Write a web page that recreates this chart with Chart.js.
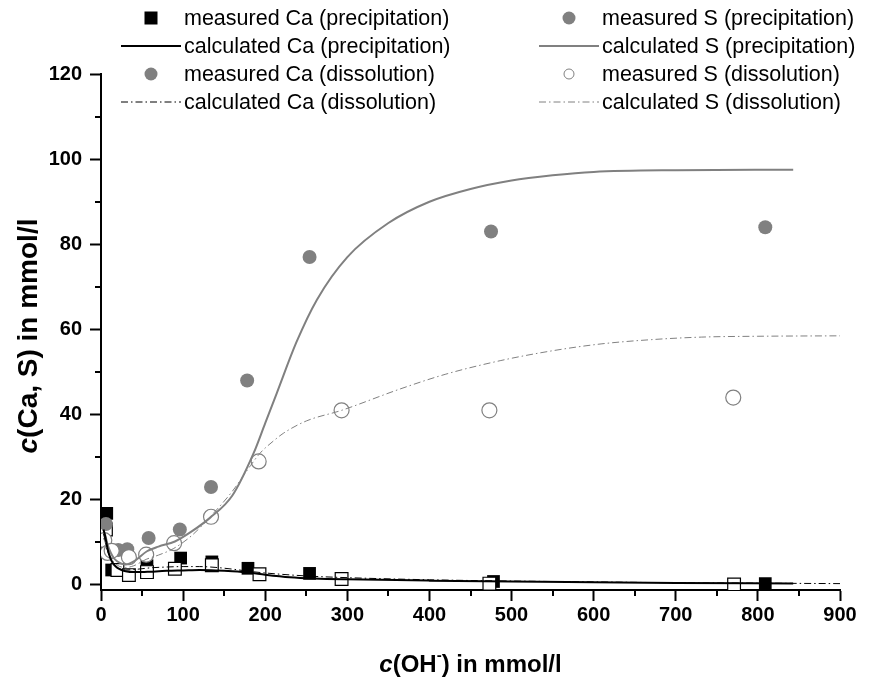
<!DOCTYPE html>
<html>
<head>
<meta charset="utf-8">
<script src="https://cdn.jsdelivr.net/npm/chart.js@4"></script>
<style>
  html, body { margin: 0; padding: 0; background: #fff; }
</style>
</head>
<body>
<canvas id="chart" width="883" height="681"></canvas>
<script>
/* global Chart */
const labels = [
  "measured Ca (precipitation)",
  "calculated Ca (precipitation)",
  "measured Ca (dissolution)",
  "calculated Ca (dissolution)",
  "measured S (precipitation)",
  "calculated S (precipitation)",
  "measured S (dissolution)",
  "calculated S (dissolution)",
];

const xTicks = [0, 100, 200, 300, 400, 500, 600, 700, 800, 900];
const yTicks = [0, 20, 40, 60, 80, 100, 120];

// measured points
const caPrecX = [7, 13, 56, 97, 135, 179, 254, 478, 809];
const caPrecY = [16.8, 3.5, 4.5, 6.3, 5.4, 3.9, 2.7, 0.8, 0.3];
const caDissX = [6, 20, 34, 56, 90, 135, 193, 293, 473, 771];
const caDissY = [13, 3.5, 2.3, 3, 3.8, 4.6, 2.5, 1.4, 0.3, 0.1];
const sPrecX = [6, 21, 32, 58, 96, 134, 178, 254, 475, 809];
const sPrecY = [14.3, 8.2, 8.4, 11, 13, 23, 48, 77, 83, 84];
const sDissX = [4, 8, 13, 34, 55, 89, 134, 192, 293, 473, 770];
const sDissY = [10.5, 7.5, 8, 6.5, 7.1, 9.8, 16, 29, 41, 41, 44];

// calculated curves
const caPrecCalcX = [3, 5, 8, 12, 16, 20, 25, 30, 40, 50, 60, 80, 100, 120, 140, 160, 180, 200, 230, 260, 300, 400, 500, 600, 700, 843];
const caPrecCalcY = [13, 11.5, 8.5, 6, 4.7, 4, 3.5, 3.2, 3, 3, 3.1, 3.3, 3.4, 3.5, 3.4, 3.2, 2.9, 2.4, 1.8, 1.5, 1.3, 1.0, 0.8, 0.6, 0.45, 0.35];
const caDissCalcX = [3, 5, 8, 12, 16, 20, 25, 30, 40, 50, 60, 80, 100, 120, 140, 160, 180, 200, 250, 300, 400, 500, 600, 700, 800, 900];
const caDissCalcY = [12, 10.5, 8, 6, 4.8, 4.1, 3.7, 3.5, 3.6, 3.8, 4, 4.2, 4.3, 4.3, 4.1, 3.7, 3.2, 2.8, 2.1, 1.7, 1.2, 0.9, 0.7, 0.5, 0.4, 0.3];
const sPrecCalcX = [3, 5, 8, 12, 16, 20, 25, 30, 40, 56, 70, 90, 110, 133, 160, 186, 200, 214, 238, 263, 300, 350, 400, 450, 500, 550, 600, 700, 843];
const sPrecCalcY = [13, 11.8, 9.5, 7.5, 6.2, 5.5, 5, 4.8, 5.5, 7.9, 9, 10.2, 12.5, 15.8, 21, 31, 38, 45, 57, 67, 77, 85, 90, 93, 95, 96.2, 97, 97.4, 97.5];
const sDissCalcX = [3, 5, 8, 12, 16, 20, 25, 30, 40, 55, 70, 88, 110, 133, 160, 182, 194, 210, 222, 250, 293, 364, 420, 487, 550, 609, 670, 731, 800, 900];
const sDissCalcY = [11, 10, 8, 6.5, 5.3, 4.6, 4.2, 4.1, 4.5, 6, 7, 8.5, 11.5, 16, 22, 28, 31, 33.8, 35.6, 38.5, 41, 46, 49.5, 52.7, 55, 56.6, 57.6, 58.2, 58.4, 58.5];

const FONT = "'Liberation Sans', Arial, sans-serif";
const GRAY = "#808080";
const DASHDOT = [7, 3, 1.5, 3];

const pts = (xs, ys) => xs.map((v, i) => ({ x: v, y: ys[i] }));

function marker(label, data, style, radius, fill, border, bw, order) {
  return {
    label, data, showLine: false, order,
    pointStyle: style, pointRadius: radius, pointHoverRadius: radius,
    backgroundColor: fill, borderColor: border, borderWidth: bw,
  };
}
function curve(label, data, color, width, dash) {
  return {
    label, data, showLine: true, order: 0,
    borderColor: color, backgroundColor: color, borderWidth: width,
    borderDash: dash || [], pointRadius: 0, cubicInterpolationMode: "monotone",
  };
}

// legend drawn in two columns like the original
const legendSymbols = [
  { kind: "rect", fill: "#000" },
  { kind: "line", color: "#000", width: 2 },
  { kind: "circle", fill: GRAY },
  { kind: "line", color: "#000", width: 1, dash: DASHDOT },
  { kind: "circle", fill: GRAY },
  { kind: "line", color: GRAY, width: 2 },
  { kind: "circle", fill: "#fff", stroke: GRAY, r: 5 },
  { kind: "line", color: GRAY, width: 1, dash: DASHDOT },
];

const twoColLegend = {
  id: "twoColLegend",
  afterDraw(chart) {
    const ctx = chart.ctx;
    ctx.save();
    ctx.font = "21.5px " + FONT;
    ctx.textBaseline = "middle";
    ctx.fillStyle = "#000";
    chart.data.datasets.forEach((ds, i) => {
      const col = Math.floor(i / 4);
      const row = i % 4;
      const y = 18 + row * 28;
      const x0 = col === 0 ? 121 : 539;
      const x1 = x0 + 60;
      const cx = (x0 + x1) / 2;
      const s = legendSymbols[i];
      ctx.save();
      if (s.kind === "line") {
        ctx.strokeStyle = s.color;
        ctx.lineWidth = s.width;
        ctx.setLineDash(s.dash || []);
        ctx.beginPath();
        ctx.moveTo(x0, y);
        ctx.lineTo(x1, y);
        ctx.stroke();
      } else if (s.kind === "rect") {
        ctx.fillStyle = s.fill;
        ctx.fillRect(cx - 6.5, y - 6.5, 13, 13);
      } else {
        ctx.beginPath();
        ctx.arc(cx, y, s.r || 6.5, 0, Math.PI * 2);
        ctx.fillStyle = s.fill;
        ctx.fill();
        if (s.stroke) {
          ctx.strokeStyle = s.stroke;
          ctx.lineWidth = 1;
          ctx.stroke();
        }
      }
      ctx.restore();
      ctx.fillText(ds.label, x1 + 3, y + 1);
    });
    ctx.restore();
  },
};

// minor ticks halfway between the labelled ones
const minorTicks = {
  id: "minorTicks",
  afterDraw(chart) {
    const { ctx, chartArea, scales } = chart;
    ctx.save();
    ctx.strokeStyle = "#000";
    ctx.lineWidth = 2;
    ctx.beginPath();
    for (let i = 0; i < xTicks.length - 1; i++) {
      const px = Math.round(scales.x.getPixelForValue((xTicks[i] + xTicks[i + 1]) / 2));
      ctx.moveTo(px, chartArea.bottom);
      ctx.lineTo(px, chartArea.bottom + 6);
    }
    for (let i = 0; i < yTicks.length - 1; i++) {
      const py = Math.round(scales.y.getPixelForValue((yTicks[i] + yTicks[i + 1]) / 2));
      ctx.moveTo(chartArea.left, py);
      ctx.lineTo(chartArea.left - 6, py);
    }
    ctx.stroke();
    ctx.restore();
  },
};

// axis titles with italic "c" and superscript minus
function drawParts(ctx, parts, x, y) {
  let w = 0;
  parts.forEach((p) => { ctx.font = p.font; w += ctx.measureText(p.t).width; });
  let cx = x - w / 2;
  parts.forEach((p) => {
    ctx.font = p.font;
    ctx.fillText(p.t, cx, y + (p.dy || 0));
    cx += ctx.measureText(p.t).width;
  });
}
const axisTitles = {
  id: "axisTitles",
  afterDraw(chart) {
    const { ctx, chartArea } = chart;
    ctx.save();
    ctx.fillStyle = "#000";
    ctx.textBaseline = "middle";
    ctx.textAlign = "left";
    drawParts(ctx, [
      { t: "c", font: "italic bold 24px " + FONT },
      { t: "(OH", font: "bold 24px " + FONT },
      { t: "-", font: "bold 15px " + FONT, dy: -9 },
      { t: ") in mmol/l", font: "bold 24px " + FONT },
    ], (chartArea.left + chartArea.right) / 2, 665);
    ctx.translate(29, (chartArea.top + chartArea.bottom) / 2 + 4);
    ctx.rotate(-Math.PI / 2);
    drawParts(ctx, [
      { t: "c", font: "italic bold 28px " + FONT },
      { t: "(Ca, S) in mmol/l", font: "bold 28px " + FONT },
    ], 0, 0);
    ctx.restore();
  },
};

const tickFont = { family: FONT, size: 20, weight: "bold" };

new Chart(document.getElementById("chart"), {
  type: "scatter",
  data: {
    datasets: [
      marker(labels[0], pts(caPrecX, caPrecY), "rect", 9, "#000", "#000", 0, 4),
      curve(labels[1], pts(caPrecCalcX, caPrecCalcY), "#000", 2),
      marker(labels[2], pts(caDissX, caDissY), "rect", 9, "#fff", "#000", 1.2, 3),
      curve(labels[3], pts(caDissCalcX, caDissCalcY), "#000", 1, DASHDOT),
      marker(labels[4], pts(sPrecX, sPrecY), "circle", 7, GRAY, GRAY, 0, 2),
      curve(labels[5], pts(sPrecCalcX, sPrecCalcY), GRAY, 2),
      marker(labels[6], pts(sDissX, sDissY), "circle", 7.5, "#fff", GRAY, 1.2, 1),
      curve(labels[7], pts(sDissCalcX, sDissCalcY), GRAY, 1, DASHDOT),
    ],
  },
  options: {
    responsive: false,
    devicePixelRatio: 1,
    animation: false,
    events: [],
    layout: { padding: { top: 74, right: 43, left: 0, bottom: 0 } },
    scales: {
      x: {
        type: "linear",
        min: 0,
        max: 900,
        afterBuildTicks: (s) => { s.ticks = xTicks.map((v) => ({ value: v })); },
        afterFit: (s) => { s.height = 91; },
        grid: { drawOnChartArea: false, tickLength: 11, tickColor: "#000", tickWidth: 2 },
        border: { color: "#000", width: 2 },
        ticks: { color: "#000", font: tickFont, padding: 2, maxRotation: 0, autoSkip: false },
      },
      y: {
        type: "linear",
        min: -1.2,
        max: 120,
        afterBuildTicks: (s) => { s.ticks = yTicks.map((v) => ({ value: v })); },
        afterFit: (s) => { s.width = 101; },
        grid: { drawOnChartArea: false, tickLength: 11, tickColor: "#000", tickWidth: 2 },
        border: { color: "#000", width: 2 },
        ticks: { color: "#000", font: tickFont, padding: 8, autoSkip: false },
      },
    },
    plugins: {
      legend: { display: false },
      title: { display: false },
      tooltip: { enabled: false },
    },
  },
  plugins: [twoColLegend, minorTicks, axisTitles],
});
</script>
</body>
</html>
